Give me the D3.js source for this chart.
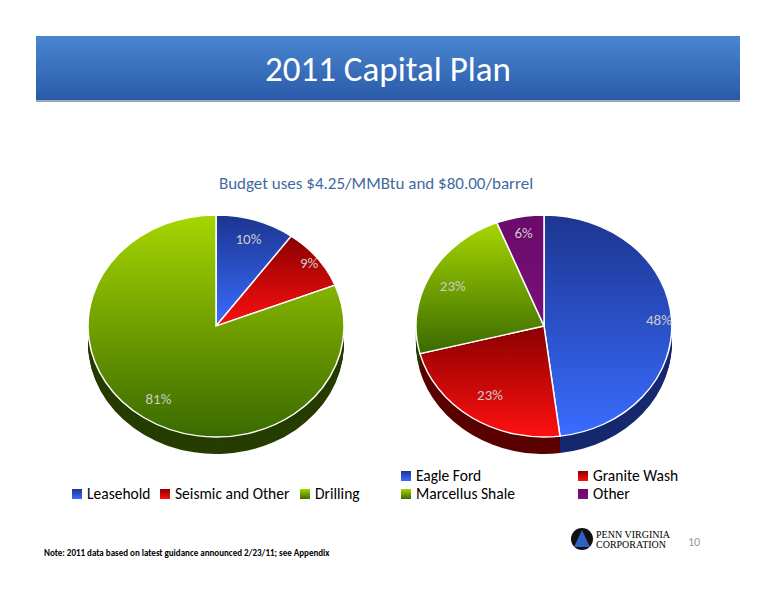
<!DOCTYPE html>
<html><head><meta charset="utf-8">
<script src="https://cdn.jsdelivr.net/npm/d3@7"></script>
<style>body{margin:0;background:#fff}svg{font-family:Calibri,Carlito,"Open Sans",sans-serif}</style>
</head><body><div id="chart"></div>
<script>
const leftLabels = ["Leasehold", "Seismic and Other", "Drilling"];
const leftValues = [10, 9, 81];
const rightLabels = ["Eagle Ford", "Granite Wash", "Marcellus Shale", "Other"];
const rightValues = [48, 23, 23, 6];

const W = 776, H = 600;
const svg = d3.select("#chart").append("svg").attr("width", W).attr("height", H);
const defs = svg.append("defs");

const palette = {
  blue: ["#1c3590", "#3a6cff", "#16286e"],
  red: ["#8a0000", "#ff1010", "#5a0000"],
  green: ["#a6d600", "#3a6a00", "#263d00"],
  purple: ["#6a0a6a", "#7a107a", "#3a003a"]
};
Object.entries(palette).forEach(([k, c]) => {
  const g = defs.append("linearGradient").attr("id", "g-" + k).attr("x1", 0).attr("y1", 0).attr("x2", 0).attr("y2", 1);
  g.append("stop").attr("offset", "0%").attr("stop-color", c[0]);
  g.append("stop").attr("offset", "100%").attr("stop-color", c[1]);
});
const hdr = defs.append("linearGradient").attr("id", "hdr").attr("x1", 0).attr("y1", 0).attr("x2", 0).attr("y2", 1);
hdr.append("stop").attr("offset", "0%").attr("stop-color", "#4a86d0");
hdr.append("stop").attr("offset", "100%").attr("stop-color", "#2a5aa8");

svg.append("rect").attr("x", 36).attr("y", 36).attr("width", 704).attr("height", 64).attr("fill", "url(#hdr)");
svg.append("line").attr("x1", 36).attr("x2", 740).attr("y1", 101).attr("y2", 101).attr("stroke", "#9ab").attr("stroke-width", 2);
svg.append("text").attr("x", 388).attr("y", 81).attr("text-anchor", "middle").attr("fill", "#fff")
  .attr("font-size", 35).text("2011 Capital Plan");
svg.append("text").attr("x", 376).attr("y", 189).attr("text-anchor", "middle").attr("fill", "#3f6aa0")
  .attr("font-size", 17).text("Budget uses $4.25/MMBtu and $80.00/barrel");

function drawPie(cx, cy, values, colors, labelPos) {
  const rx = 128, ry = 111, depth = 17;
  const pie = d3.pie().sort(null).value(d => d);
  const arcs = pie(values);
  const arc = d3.arc().innerRadius(0).outerRadius(1);
  const g = svg.append("g");
  for (let k = depth; k >= 1; k--) {
    g.selectAll(null).data(arcs).enter().append("path")
      .attr("transform", `translate(${cx},${cy + k}) scale(${rx},${ry})`)
      .attr("d", arc).attr("fill", (d, i) => palette[colors[i]][2]);
  }
  g.selectAll(null).data(arcs).enter().append("path")
    .attr("transform", `translate(${cx},${cy}) scale(${rx},${ry})`)
    .attr("d", arc).attr("fill", (d, i) => `url(#g-${colors[i]})`)
    .attr("stroke", "#fff").attr("stroke-width", 1.5 / rx);
  g.selectAll(null).data(arcs).enter().append("text")
    .attr("x", (d, i) => cx + labelPos[i] * rx * Math.sin((d.startAngle + d.endAngle) / 2))
    .attr("y", (d, i) => cy - labelPos[i] * ry * Math.cos((d.startAngle + d.endAngle) / 2) + 5)
    .attr("text-anchor", "middle").attr("fill", "#ccc").attr("font-size", 15)
    .text(d => d.data + "%");
}
drawPie(216, 326, leftValues, ["blue", "red", "green"], [0.82, 0.92, 0.8]);
drawPie(544, 326, rightValues, ["blue", "red", "green", "purple"], [0.9, 0.75, 0.8, 0.85]);

function legendItem(x, y, color, label) {
  svg.append("rect").attr("x", x).attr("y", y - 10).attr("width", 10).attr("height", 10).attr("fill", `url(#g-${color})`);
  svg.append("text").attr("x", x + 15).attr("y", y).attr("font-size", 15.5).attr("fill", "#000").text(label);
}
const lx = [72, 160, 300];
leftLabels.forEach((l, i) => legendItem(lx[i], 499, ["blue", "red", "green"][i], l));
const rpos = [[401, 481], [578, 481], [401, 499], [578, 499]];
rightLabels.forEach((l, i) => legendItem(rpos[i][0], rpos[i][1], ["blue", "red", "green", "purple"][i], l));

svg.append("text").attr("x", 44).attr("y", 556).attr("font-size", 9).attr("font-weight", "bold")
  .text("Note: 2011 data based on latest guidance announced 2/23/11; see Appendix");
// logo
svg.append("circle").attr("cx", 582).attr("cy", 539).attr("r", 11).attr("fill", "#111");
svg.append("path").attr("d", "M582,530 L574,547 L590,547 Z").attr("fill", "#2f62c0");
svg.append("text").attr("x", 596).attr("y", 538).attr("font-family", "Liberation Serif,serif").attr("font-size", 10).text("PENN VIRGINIA");
svg.append("text").attr("x", 596).attr("y", 548).attr("font-family", "Liberation Serif,serif").attr("font-size", 10).text("CORPORATION");
svg.append("text").attr("x", 688).attr("y", 546).attr("font-size", 12).attr("fill", "#999").text("10");
</script></body></html>
